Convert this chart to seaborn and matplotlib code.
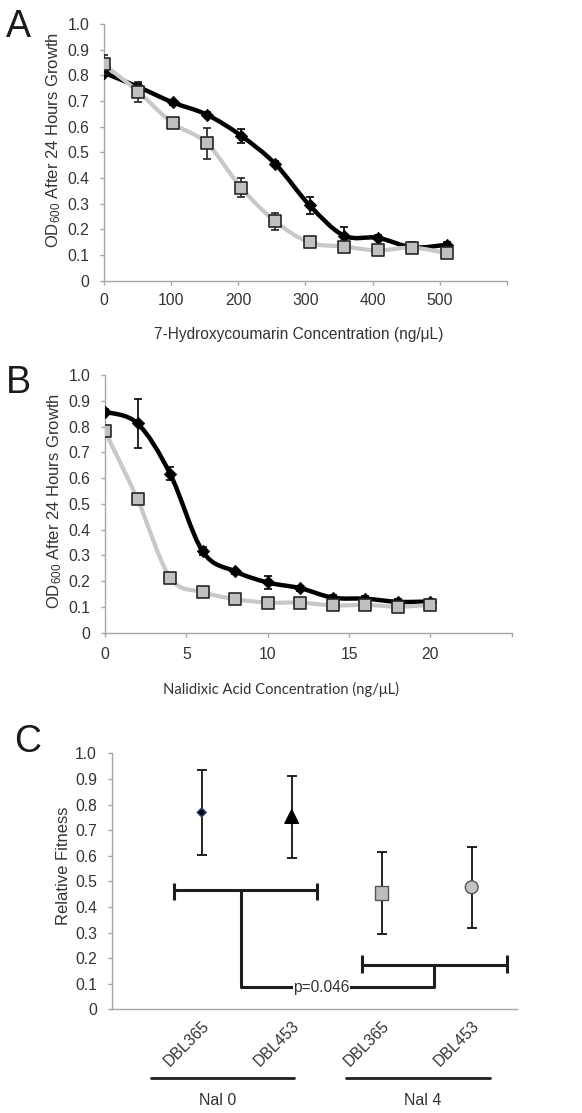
import numpy as np
import pandas as pd
import matplotlib
matplotlib.use('Agg')
import matplotlib.pyplot as plt
import seaborn as sns
from matplotlib.path import Path
from matplotlib.patches import PathPatch

sns.set_style('ticks')
plt.rcParams['font.family'] = ['Liberation Sans', 'DejaVu Sans']
plt.rcParams['mathtext.fontset'] = 'custom'
plt.rcParams['mathtext.rm'] = 'Liberation Sans'
plt.rcParams['mathtext.default'] = 'regular'

# Panel A: 7-hydroxycoumarin dose response
conc_a = [0, 51, 102, 153, 204, 255, 306, 357, 408, 459, 510]
black_a = [0.81, 0.755, 0.695, 0.647, 0.565, 0.455, 0.294, 0.176, 0.167, 0.13, 0.14]
black_a_err = [0.01, 0.015, 0.01, 0.01, 0.028, 0.01, 0.033, 0.032, 0.01, 0.01, 0.01]
gray_a = [0.843, 0.736, 0.614, 0.536, 0.363, 0.231, 0.149, 0.133, 0.118, 0.129, 0.107]
gray_a_err = [0.037, 0.04, 0.01, 0.06, 0.037, 0.032, 0.01, 0.01, 0.01, 0.02, 0.01]
xticks_a = [0, 100, 200, 300, 400, 500, 600]
xticklabels_a = ['0', '100', '200', '300', '400', '500', '']

# Panel B: nalidixic acid dose response
conc_b = [0, 2, 4, 6, 8, 10, 12, 14, 16, 18, 20]
black_b = [0.857, 0.812, 0.617, 0.316, 0.238, 0.195, 0.173, 0.136, 0.132, 0.12, 0.121]
black_b_err = [0.01, 0.096, 0.025, 0.015, 0.01, 0.024, 0.01, 0.01, 0.01, 0.01, 0.01]
gray_b = [0.782, 0.517, 0.214, 0.158, 0.13, 0.117, 0.117, 0.106, 0.108, 0.101, 0.108]
gray_b_err = [0.005, 0.005, 0.005, 0.005, 0.005, 0.005, 0.005, 0.005, 0.005, 0.005, 0.005]
xticks_b = [0, 5, 10, 15, 20, 25]
xticklabels_b = ['0', '5', '10', '15', '20', '']

# Panel C: relative fitness
strains = ['DBL365', 'DBL453', 'DBL365', 'DBL453']
conditions = ['Nal 0', 'Nal 0', 'Nal 4', 'Nal 4']
fitness = [0.769, 0.753, 0.455, 0.477]
fitness_err = [0.166, 0.16, 0.16, 0.159]
p_text = 'p=0.046'

yticks = [0, 0.1, 0.2, 0.3, 0.4, 0.5, 0.6, 0.7, 0.8, 0.9, 1.0]
yticklabels = ['0', '0.1', '0.2', '0.3', '0.4', '0.5', '0.6', '0.7', '0.8', '0.9', '1.0']

TXT = '#333333'
AXC = '#a6a6a6'
FS = 11.3


def smooth_path(x, y):
    pts = np.column_stack([x, y]).astype(float)
    n = len(pts)
    verts = [pts[0]]
    codes = [Path.MOVETO]
    for i in range(n - 1):
        p0 = pts[max(i - 1, 0)]
        p1 = pts[i]
        p2 = pts[i + 1]
        p3 = pts[min(i + 2, n - 1)]
        verts += [p1 + (p2 - p0) / 6, p2 - (p3 - p1) / 6, p2]
        codes += [Path.CURVE4] * 3
    return Path(verts, codes)


def style_axis(ax, xpad=5.5):
    sns.despine(ax=ax)
    for s in ['left', 'bottom']:
        ax.spines[s].set_color(AXC)
        ax.spines[s].set_linewidth(1.0)
    ax.tick_params(axis='y', direction='out', length=3, width=1, color=AXC,
                   labelsize=FS, labelcolor=TXT, pad=7.5)
    ax.tick_params(axis='x', direction='out', length=3, width=1, color=AXC,
                   labelsize=FS, labelcolor=TXT, pad=xpad)
    ax.set_ylim(0, 1.0)
    ax.set_yticks(yticks)
    ax.set_yticklabels(yticklabels)


def dose_panel(ax, x, yb, eb, yg, eg):
    ax.add_patch(PathPatch(smooth_path(x, yb), fc='none', ec='black', lw=3.2,
                           capstyle='round', joinstyle='round', zorder=2))
    ax.errorbar(x, yb, yerr=eb, fmt='none', ecolor='black', elinewidth=1.2,
                capsize=3.0, capthick=1.2, zorder=2.5)
    sns.scatterplot(x=x, y=yb, ax=ax, marker='D', s=40, color='black',
                    edgecolor='black', linewidth=0.5, zorder=3, legend=False)
    ax.add_patch(PathPatch(smooth_path(x, yg), fc='none', ec='#c8c8c8', lw=3.0,
                           capstyle='round', joinstyle='round', zorder=4))
    ax.errorbar(x, yg, yerr=eg, fmt='none', ecolor='#222222', elinewidth=1.2,
                capsize=3.0, capthick=1.2, zorder=4.5)
    sns.scatterplot(x=x, y=yg, ax=ax, marker='s', s=85, color='#c0c0c0',
                    edgecolor='#262626', linewidth=1.2, zorder=5, legend=False)


fig = plt.figure(figsize=(5.82, 11.13), dpi=100)
axA = fig.add_axes([0.1787, 0.7478, 0.6924, 0.2306])
axB = fig.add_axes([0.1804, 0.4315, 0.6988, 0.2316])
axC = fig.add_axes([0.1919, 0.0930, 0.6959, 0.2302])

# ---- A ----
dose_panel(axA, conc_a, black_a, black_a_err, gray_a, gray_a_err)
style_axis(axA)
axA.set_xlim(0, 600)
axA.set_xticks(xticks_a)
axA.set_xticklabels(xticklabels_a)
axA.set_ylabel('OD$_{600}$ After 24 Hours Growth', fontsize=12, color=TXT,
               va='center', ha='center')
axA.yaxis.set_label_coords(-0.124, 0.548)
axA.set_xlabel('7-Hydroxycoumarin Concentration (ng/\u03bcL)', fontsize=11.2,
               color=TXT, va='center')
axA.xaxis.set_label_coords(0.482, -0.208)

# ---- B ----
dose_panel(axB, conc_b, black_b, black_b_err, gray_b, gray_b_err)
style_axis(axB, xpad=7.5)
axB.set_xlim(0, 25)
axB.set_xticks(xticks_b)
axB.set_xticklabels(xticklabels_b)
axB.set_ylabel('OD$_{600}$ After 24 Hours Growth', fontsize=12, color=TXT,
               va='center', ha='center')
axB.yaxis.set_label_coords(-0.125, 0.511)
axB.set_xlabel('Nalidixic Acid Concentration (ng/\u03bcL)', fontsize=10.6,
               color=TXT, va='center', family=['Lato', 'DejaVu Sans'])
axB.xaxis.set_label_coords(0.4335, -0.222)

# ---- C ----
pos_c = np.arange(1, len(strains) + 1)
df_c = pd.DataFrame({'pos': pos_c, 'fit': fitness, 'err': fitness_err,
                     'grp': ['a', 'b', 'c', 'd']})
axC.errorbar(df_c['pos'], df_c['fit'], yerr=df_c['err'], fmt='none',
             ecolor='#111111', elinewidth=1.3, capsize=3.4, capthick=1.3, zorder=2)
sns.scatterplot(data=df_c, x='pos', y='fit', hue='grp', style='grp', ax=axC,
                markers={'a': 'D', 'b': '^', 'c': 's', 'd': 'o'},
                palette={'a': 'black', 'b': 'black', 'c': '#bdbdbd', 'd': '#c4c4c4'},
                size='grp', sizes={'a': 22, 'b': 95, 'c': 95, 'd': 85},
                edgecolor=['#2b4f86', 'black', '#555555', '#555555'],
                linewidth=1.0, zorder=3, legend=False)
style_axis(axC)
axC.set_xlim(0, 4.5)
axC.set_xticks(pos_c)
axC.set_xticklabels(strains, rotation=45, ha='right', va='top',
                    rotation_mode='anchor')
axC.tick_params(axis='x', length=0, pad=6)
axC.set_xlabel('')
axC.set_ylabel('Relative Fitness', fontsize=12, color=TXT, va='center', ha='center')
axC.yaxis.set_label_coords(-0.1195, 0.56)

# significance brackets
bk = dict(color='#1e1e1e', lw=2.2, solid_capstyle='butt', zorder=4)
axC.plot([0.696, 2.284], [0.4675, 0.4675], **bk)
axC.plot([0.696, 0.696], [0.429, 0.494], **bk)
axC.plot([2.284, 2.284], [0.429, 0.494], **bk)
axC.plot([2.784, 4.395], [0.1727, 0.1727], **bk)
axC.plot([2.784, 2.784], [0.143, 0.214], **bk)
axC.plot([4.395, 4.395], [0.143, 0.214], **bk)
axC.plot([1.437, 1.437, 3.583, 3.583], [0.4675, 0.087, 0.087, 0.1727], **bk)
axC.text(2.33, 0.087, p_text, fontsize=11.2, color=TXT, ha='center', va='center',
         zorder=5, bbox=dict(fc='white', ec='none', pad=0.5))

# group underlines
xtr = axC.get_xaxis_transform()
for (x0, x1), lab, xc in [((0.44, 2.03), 'Nal 0', 1.18), ((2.60, 4.20), 'Nal 4', 3.46)]:
    axC.plot([x0, x1], [-0.266, -0.266], color='#1e1e1e', lw=2.0,
             transform=xtr, clip_on=False)
    axC.text(xc, -0.356, lab, transform=xtr, fontsize=11.5, color=TXT,
             ha='center', va='center')

# panel letters
for lab, x, y in [('A', 0.0318, 0.9668), ('B', 0.0315, 0.6469), ('C', 0.0473, 0.3243)]:
    fig.text(x, y, lab, fontsize=27, color='#1a1a1a', ha='center', va='baseline')

fig.savefig('out.png', dpi=100)
